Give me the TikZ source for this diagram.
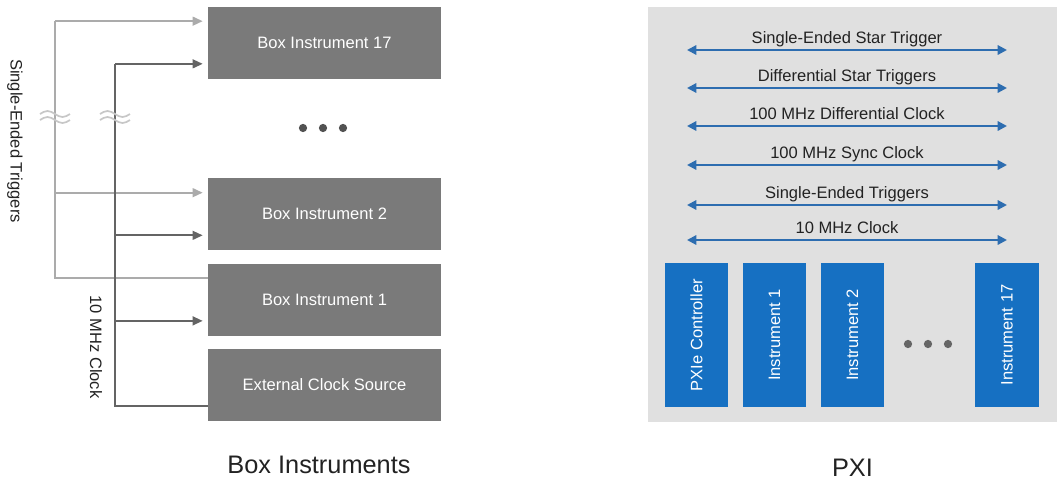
\documentclass[tikz,border=0pt]{standalone}
\usepackage{fontspec}
\setmainfont{Liberation Sans}
\usetikzlibrary{arrows.meta, positioning}
\definecolor{boxgray}{HTML}{7A7A7A}
\definecolor{trigray}{HTML}{ABABAB}
\definecolor{clkgray}{HTML}{646464}
\definecolor{panelgray}{HTML}{E0E0E0}
\definecolor{pxiblue}{HTML}{1670C2}
\definecolor{busblue}{HTML}{2D6DB0}
\definecolor{inkgray}{HTML}{222222}

\begin{document}
\begin{tikzpicture}[
  x=0.75pt, y=-0.75pt,
  font=\fontsize{12.4}{14}\selectfont, text=inkgray,
  boxinst/.style={fill=boxgray, text=white, minimum width=174.75pt, minimum height=54pt, inner sep=0pt},
  slot/.style={fill=pxiblue, text=white, minimum width=47.6pt, minimum height=108pt, inner sep=0pt},
  trig/.style={trigray, line width=1.5pt},
  clk/.style={clkgray, line width=1.5pt},
  tip/.style={-{Triangle[length=7.5pt,width=6.5pt]}, shorten >=3.75pt},
  bus/.style={busblue, line width=1.6pt, {Triangle[length=7pt,width=7pt]}-{Triangle[length=7pt,width=7pt]}},
  buslab/.style={text=inkgray, text height=9pt, text depth=2.6pt, inner sep=1.5pt, above=0pt},
  dotmark/.style={circle, fill=#1, inner sep=0pt, minimum size=6.2pt},
  brk/.style={black!22, line width=1.3pt},
  title/.style={font=\fontsize{19}{22}\selectfont}
]
\useasboundingbox (0,0) rectangle (1061,486);

% box instruments
\node[boxinst] (b17) at (324.5,42.5) {Box Instrument 17};
\node[boxinst] (b2) at (324.5,214) {Box Instrument 2};
\node[boxinst, below=9.75pt of b2] (b1) {Box Instrument 1};
\node[boxinst, below=9.75pt of b1] (ext) {External Clock Source};

\node[dotmark=black!68] (ld1) at (303,128) {};
\node[dotmark=black!68] (ld2) at (323,128) {};
\node[dotmark=black!68] (ld3) at (343,128) {};

% trunks and taps
\coordinate (ttrunk) at (55,0);
\coordinate (ctrunk) at (115,0);
\coordinate (t17) at ([yshift=16pt]b17.west);
\coordinate (t2) at ([yshift=16pt]b2.west);
\coordinate (t1) at ([yshift=16pt]b1.west);
\coordinate (c17) at ([yshift=-16pt]b17.west);
\coordinate (c2) at ([yshift=-16pt]b2.west);
\coordinate (c1) at ([yshift=-16pt]b1.west);
\coordinate (cx) at ([yshift=-16pt]ext.west);

\draw[trig] (t1) -| (ttrunk |- t17);
\draw[trig, tip] (ttrunk |- t17) -- (t17);
\draw[trig, tip] (ttrunk |- t2) -- (t2);

\draw[clk] (cx) -| (ctrunk |- c17);
\draw[clk, tip] (ctrunk |- c17) -- (c17);
\draw[clk, tip] (ctrunk |- c2) -- (c2);
\draw[clk, tip] (ctrunk |- c1) -- (c1);

% break marks
\draw[brk] (40,114) sin (47.5,111) cos (55,114) sin (62.5,117) cos (70,114);
\draw[brk] (40,120) sin (47.5,117) cos (55,120) sin (62.5,123) cos (70,120);
\draw[brk] (100,114) sin (107.5,111) cos (115,114) sin (122.5,117) cos (130,114);
\draw[brk] (100,120) sin (107.5,117) cos (115,120) sin (122.5,123) cos (130,120);

\node[rotate=-90] (trglab) at (15,141) {Single-Ended Triggers};
\node[rotate=-90] (clklab) at (96,347) {10 MHz Clock};
\node[title] (lefttitle) at (319,465) {Box Instruments};

% PXI chassis
\node[fill=panelgray, minimum width=306.75pt, minimum height=311.25pt, inner sep=0pt] (panel) at (852.5,214.5) {};

\coordinate (l1) at (687,50);  \coordinate (r1) at (1007,50);
\coordinate (l2) at (687,88);  \coordinate (r2) at (1007,88);
\coordinate (l3) at (687,126); \coordinate (r3) at (1007,126);
\coordinate (l4) at (687,165); \coordinate (r4) at (1007,165);
\coordinate (l5) at (687,205); \coordinate (r5) at (1007,205);
\coordinate (l6) at (687,240); \coordinate (r6) at (1007,240);

\draw[bus] (l1) -- node[buslab] (bus1) {Single-Ended Star Trigger} (r1);
\draw[bus] (l2) -- node[buslab] (bus2) {Differential Star Triggers} (r2);
\draw[bus] (l3) -- node[buslab] (bus3) {100 MHz Differential Clock} (r3);
\draw[bus] (l4) -- node[buslab] (bus4) {100 MHz Sync Clock} (r4);
\draw[bus] (l5) -- node[buslab] (bus5) {Single-Ended Triggers} (r5);
\draw[bus] (l6) -- node[buslab] (bus6) {10 MHz Clock} (r6);

\node[slot] (ctrl) at (696.5,335) {\rotatebox{90}{PXIe Controller}};
\node[slot, right=10.5pt of ctrl] (inst1) {\rotatebox{90}{Instrument 1}};
\node[slot, right=10.5pt of inst1] (inst2) {\rotatebox{90}{Instrument 2}};
\node[slot] (inst17) at (1007,335) {\rotatebox{90}{Instrument 17}};

\node[dotmark=black!60] (rd1) at (908,344) {};
\node[dotmark=black!60] (rd2) at (928,344) {};
\node[dotmark=black!60] (rd3) at (948,344) {};

\node[title] (pxititle) at (852.5,468) {PXI};
\end{tikzpicture}
\end{document}
